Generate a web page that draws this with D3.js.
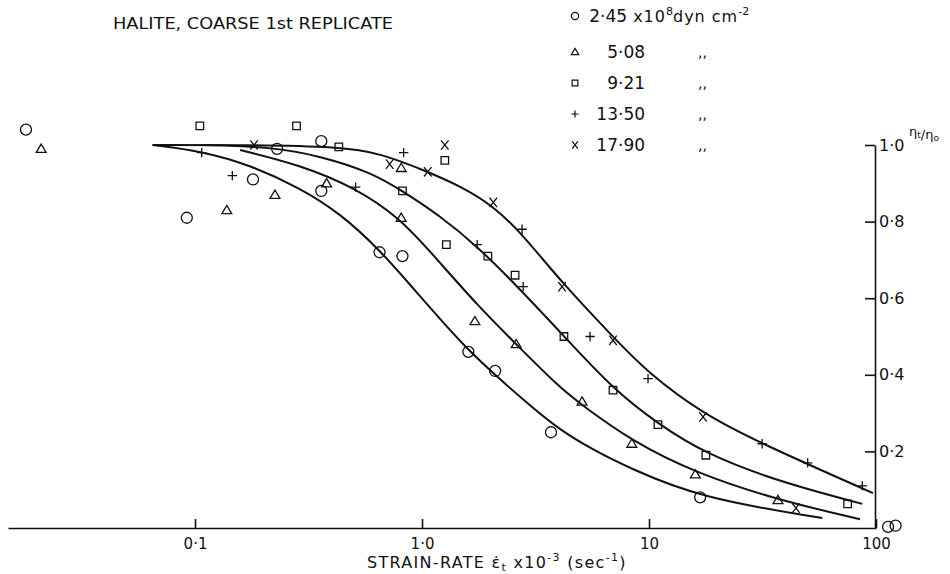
<!DOCTYPE html>
<html>
<head>
<script src="https://d3js.org/d3.v7.min.js"></script>
<style>
    body { margin: 0; background: #fff; }
    #vizBody text { font-family: "DejaVu Sans", sans-serif; fill: #111; }
</style>
</head>
<body>
<div id="vizBody"></div>
<script>
// stress levels, x10^8 dyn cm^-2
let stresses = ["2·45", "5·08", "9·21", "13·50", "17·90"];
let symbols = ["circle", "triangle", "square", "plus", "cross"];

// axis ticks
let xTickValues = [0.1, 1, 10, 100];
let xTickLabels = ["0·1", "1·0", "10", "100"];
let yTickValues = [0.2, 0.4, 0.6, 0.8, 1.0];
let yTickLabels = ["0·2", "0·4", "0·6", "0·8", "1·0"];

// measured points [strain-rate x10^-3 sec^-1, eta_t/eta_0]
let pts245 = [[0.018, 1.04], [0.092, 0.81], [0.18, 0.91], [0.23, 0.99], [0.36, 1.01], [0.36, 0.88],
              [0.65, 0.72], [0.82, 0.71], [1.6, 0.46], [2.1, 0.41], [3.7, 0.25], [16.8, 0.08],
              [113, 0.003], [122, 0.006]];
let pts508 = [[0.021, 0.99], [0.138, 0.83], [0.225, 0.87], [0.38, 0.90], [0.81, 0.94], [0.81, 0.81],
              [1.71, 0.54], [2.6, 0.48], [5.07, 0.33], [8.4, 0.22], [16, 0.14], [37, 0.073]];
let pts921 = [[0.105, 1.05], [0.28, 1.05], [0.43, 0.995], [1.26, 0.96], [0.82, 0.88], [1.28, 0.74],
              [1.95, 0.71], [2.57, 0.66], [4.22, 0.50], [6.94, 0.36], [10.95, 0.27], [17.8, 0.19], [75, 0.063]];
let pts1350 = [[0.107, 0.98], [0.146, 0.92], [0.51, 0.89], [0.83, 0.98], [1.75, 0.74], [2.76, 0.78],
               [2.79, 0.63], [5.5, 0.50], [9.9, 0.39], [31.5, 0.22], [50, 0.17], [87, 0.11]];
let pts1790 = [[0.182, 1.0], [0.72, 0.95], [1.06, 0.93], [1.26, 1.0], [2.06, 0.85], [4.14, 0.63],
               [6.94, 0.49], [17.3, 0.29], [44.4, 0.052]];

// hand-fitted curves
let curve245 = [[0.065, 1.0], [0.107, 0.984], [0.175, 0.948], [0.29, 0.888], [0.435, 0.822], [0.653, 0.726],
                [0.95, 0.614], [1.29, 0.525], [1.6, 0.465], [2.1, 0.399], [3.0, 0.319], [4.05, 0.256],
                [5.6, 0.206], [8.0, 0.159], [16.8, 0.078], [58, 0.026]];
let curve508 = [[0.158, 0.987], [0.29, 0.948], [0.51, 0.888], [0.80, 0.809], [1.12, 0.713], [1.8, 0.574],
                [2.62, 0.478], [4.05, 0.366], [5.07, 0.321], [8.4, 0.227], [16, 0.144], [37, 0.073], [85, 0.023]];
let curve921 = [[0.105, 1.0], [0.22, 0.995], [0.355, 0.971], [0.59, 0.93], [0.82, 0.88], [1.2, 0.815],
                [1.75, 0.736], [2.7, 0.624], [4.22, 0.501], [6.94, 0.363], [10.95, 0.272], [17.8, 0.193],
                [37.8, 0.12], [87, 0.063]];
let curveTop = [[0.065, 1.0], [0.175, 1.0], [0.435, 0.995], [0.653, 0.979], [1.06, 0.93], [1.47, 0.893],
                [2.06, 0.841], [2.76, 0.768], [4.14, 0.64], [6.94, 0.499], [9.9, 0.405], [17.3, 0.298],
                [30.8, 0.222], [97, 0.091]];

let series = [pts245, pts508, pts921, pts1350, pts1790];
let curves = [curve245, curve508, curve921, curveTop];

let width = 950, height = 574;

let svg = d3.select("#vizBody")
            .append("svg")
                .attr("width", width)
                .attr("height", height);

// log x scale, linear y scale (y axis sits on the right)
let x = d3.scaleLog().domain([0.015, 100]).range([8, 876]);
let y = d3.scaleLinear().domain([0, 1]).range([528, 145]);

// symbol paths drawn as outlines
function symbolPath(type, s) {
    switch (type) {
        case "circle":
            return "M" + s + ",0A" + s + "," + s + " 0 1,1 " + (-s) + ",0A" + s + "," + s + " 0 1,1 " + s + ",0";
        case "triangle":
            return "M0," + (-s) + "L" + (s * 1.05) + "," + (s * 0.75) + "L" + (-s * 1.05) + "," + (s * 0.75) + "Z";
        case "square":
            return "M" + (-s * 0.8) + "," + (-s * 0.8) + "h" + (s * 1.6) + "v" + (s * 1.6) + "h" + (-s * 1.6) + "Z";
        case "plus":
            return "M" + (-s) + ",0H" + s + "M0," + (-s) + "V" + s;
        case "cross":
            return "M" + (-s * 0.8) + "," + (-s) + "L" + (s * 0.8) + "," + s + "M" + (-s * 0.8) + "," + s + "L" + (s * 0.8) + "," + (-s);
    }
}

// x axis, ticks pointing up
svg.append("g")
   .attr("transform", "translate(0,528)")
   .call(d3.axisBottom(x)
           .tickValues(xTickValues)
           .tickFormat((d, i) => xTickLabels[i])
           .tickSize(-9)
           .tickSizeOuter(0)
           .tickPadding(10))
   .call(g => g.selectAll("path, line").attr("stroke", "#111").attr("stroke-width", 1.6))
   .call(g => g.selectAll("text").attr("font-size", 15).style("font-family", "DejaVu Sans"));

// right y axis, ticks pointing left
svg.append("g")
   .attr("transform", "translate(875,0)")
   .call(d3.axisRight(y)
           .tickValues(yTickValues)
           .tickFormat((d, i) => yTickLabels[i])
           .tickSize(-10)
           .tickSizeOuter(0)
           .tickPadding(4))
   .call(g => g.selectAll("path, line").attr("stroke", "#111").attr("stroke-width", 1.6))
   .call(g => g.selectAll("text").attr("font-size", 16).style("font-family", "DejaVu Sans"));

// fitted curves
let line = d3.line()
             .x(d => x(d[0]))
             .y(d => y(d[1]))
             .curve(d3.curveBasis);

svg.selectAll(".fit")
   .data(curves)
   .enter()
   .append("path")
      .attr("class", "fit")
      .attr("d", line)
      .attr("fill", "none")
      .attr("stroke", "#111")
      .attr("stroke-width", 2);

// measured points
series.forEach((pts, i) => {
    svg.selectAll(".pt" + i)
       .data(pts)
       .enter()
       .append("path")
          .attr("class", "pt" + i)
          .attr("transform", d => "translate(" + x(d[0]) + "," + y(d[1]) + ")")
          .attr("d", symbolPath(symbols[i], i == 0 ? 5.5 : 4.7))
          .attr("fill", "none")
          .attr("stroke", "#111")
          .attr("stroke-width", 1.3);
});

// title
svg.append("text")
   .attr("x", 113)
   .attr("y", 29)
   .attr("font-size", 16)
   .attr("textLength", 280)
   .attr("lengthAdjust", "spacingAndGlyphs")
   .text("HALITE, COARSE 1st REPLICATE");

// legend
let legendY = [16, 52, 83, 114, 145];
let legend = svg.append("g");
stresses.forEach((s, i) => {
    legend.append("path")
          .attr("transform", "translate(575," + legendY[i] + ")")
          .attr("d", symbolPath(symbols[i], 3.6))
          .attr("fill", "none")
          .attr("stroke", "#111")
          .attr("stroke-width", 1.2);
    let parts = s.split("·");
    let ax = i == 0 ? 600 : 618;
    legend.append("text")
          .attr("x", ax).attr("y", legendY[i] + 6)
          .attr("font-size", 17)
          .attr("text-anchor", "end")
          .text(parts[0]);
    let t = legend.append("text")
                  .attr("x", ax).attr("y", legendY[i] + 6)
                  .attr("font-size", 17);
    t.append("tspan").text("·" + parts[1]);
    if (i == 0) {
        t.append("tspan").attr("font-size", 16).attr("letter-spacing", 1).text(" x10");
        t.append("tspan").attr("font-size", 11).attr("dy", -7).text("8");
        t.append("tspan").attr("font-size", 16).attr("letter-spacing", 1).attr("dy", 7).text("dyn cm");
        t.append("tspan").attr("font-size", 11).attr("dy", -7).text("-2");
    } else {
        legend.append("text")
              .attr("x", 698).attr("y", legendY[i] + 5)
              .attr("font-size", 14)
              .text(",,");
    }
});

// x axis title
let xt = svg.append("text")
            .attr("x", 367)
            .attr("y", 568)
            .attr("font-size", 16)
            .attr("letter-spacing", 1.3);
xt.append("tspan").text("STRAIN-RATE ");
xt.append("tspan").text("\u03b5\u0307");
xt.append("tspan").attr("font-size", 11).attr("dy", 3).text("t");
xt.append("tspan").attr("dy", -3).text(" x10");
xt.append("tspan").attr("font-size", 11).attr("dy", -7).text("-3");
xt.append("tspan").attr("dy", 7).text(" (sec");
xt.append("tspan").attr("font-size", 11).attr("dy", -7).text("-1");
xt.append("tspan").attr("dy", 7).text(")");

// y axis title
let yt = svg.append("text")
            .attr("x", 909)
            .attr("y", 136)
            .attr("font-size", 13);
yt.append("tspan").text("\u03b7");
yt.append("tspan").attr("font-size", 9).attr("dy", 2).text("t");
yt.append("tspan").attr("dy", 1).text("/\u03b7");
yt.append("tspan").attr("font-size", 9).attr("dy", 2).text("o");
</script>
</body>
</html>
